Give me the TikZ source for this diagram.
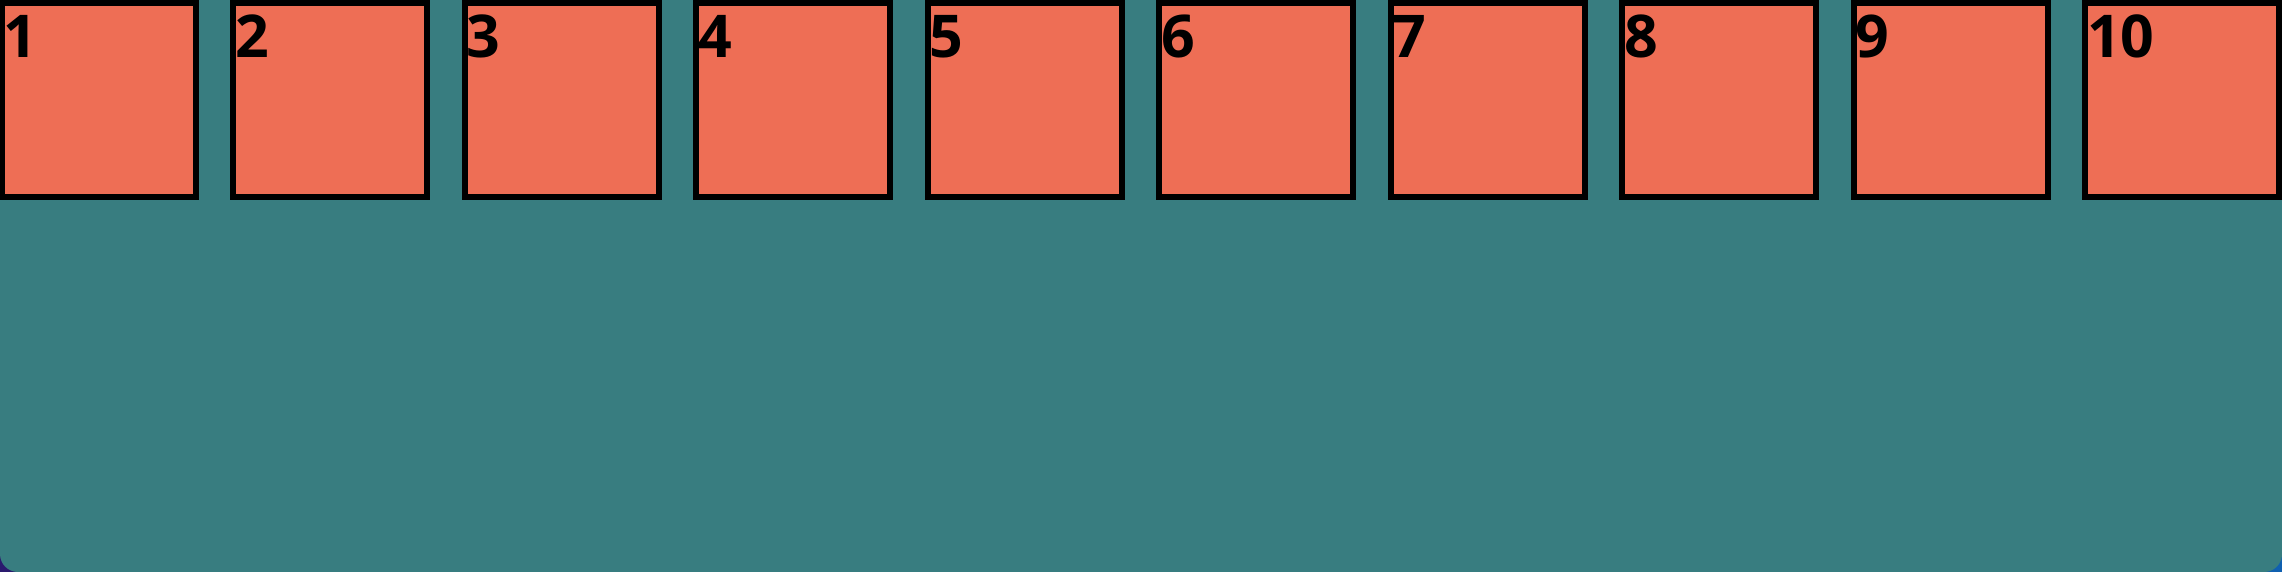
\documentclass[tikz,border=0pt]{standalone}
\usepackage{fontspec}
\setmainfont{Open Sans}
\definecolor{salmon}{HTML}{EE6E55}
\definecolor{tealbg}{HTML}{387D80}
\definecolor{navyc}{HTML}{2A1A6E}
\definecolor{bluec}{HTML}{1060B0}
\begin{document}
\begin{tikzpicture}[x=1pt,y=-1pt,
  cell/.style={draw=black,line width=6pt,fill=salmon,minimum width=194pt,minimum height=194pt,inner sep=0pt,outer sep=0pt},
  num/.style={anchor=base west,inner sep=0pt,font=\fontsize{59}{59}\selectfont\bfseries}]
\useasboundingbox (0,0) rectangle (2282,572);
\shade[left color=navyc,right color=bluec] (0,0) rectangle (2282,572);
\fill[tealbg,rounded corners=18pt] (0,0) rectangle (2282,572);
\foreach \i in {1,...,10}{
  \pgfmathsetmacro{\lx}{-1.5+231.5*(\i-1)}
  \node[cell] (b\i) at (\lx+100,100) {};
  \node[num] (t\i) at (\lx+5,58) {\i};
}
\end{tikzpicture}
\end{document}
